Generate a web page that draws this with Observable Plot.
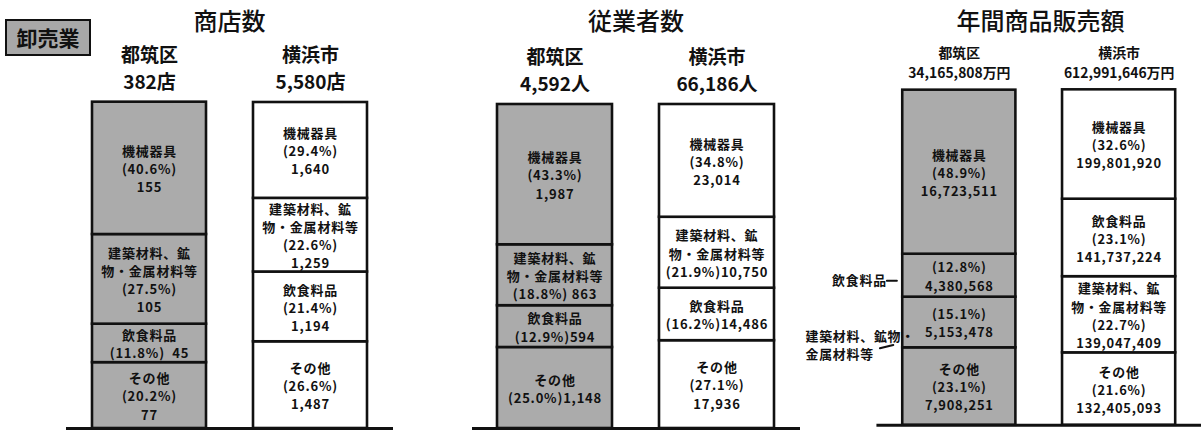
<!DOCTYPE html>
<html><head><meta charset="utf-8">
<script src="https://cdn.jsdelivr.net/npm/d3@7"></script>
<script src="https://cdn.jsdelivr.net/npm/@observablehq/plot@0.6"></script>
<style>
body{margin:0;background:#fff;font-family:"Noto Sans CJK JP",sans-serif;}
#wrap{position:relative;width:1201px;height:430px;overflow:hidden;background:#fff}
.panel{position:absolute;top:0}
.panel g[aria-label="text"] text{letter-spacing:0.8px}
.title{position:absolute;top:8px;font-size:24px;line-height:1;text-align:center;font-weight:500;color:#111}
#badge{position:absolute;left:5px;top:19px;width:82px;height:33px;background:#a8a8a8;border:2px solid #111;
  font-size:21px;font-weight:bold;line-height:33px;text-align:center;color:#111}
</style></head><body><div id="wrap"><div id="badge">卸売業</div></div>
<script>
// ---- data ----
const areas = ["都筑区", "横浜市"];
const panelTitles = ["商店数", "従業者数", "年間商品販売額"];
const totals = [["382店", "5,580店"], ["4,592人", "66,186人"], ["34,165,808万円", "612,991,646万円"]];
const buildName = "建築材料、鉱\n物・金属材料等";

// 商店数
const shopTsuzukiCats = ["機械器具", buildName, "飲食料品", "その他"];
const shopTsuzukiPct = [40.6, 27.5, 11.8, 20.2];
const shopTsuzukiVal = [155, 105, 45, 77];
const shopTsuzukiForm = ["a", "a", "b2", "a"];
const shopYokoCats = ["機械器具", buildName, "飲食料品", "その他"];
const shopYokoPct = [29.4, 22.6, 21.4, 26.6];
const shopYokoVal = [1640, 1259, 1194, 1487];
const shopYokoForm = ["a", "a", "a", "a"];

// 従業者数
const empTsuzukiCats = ["機械器具", buildName, "飲食料品", "その他"];
const empTsuzukiPct = [43.3, 18.8, 12.9, 25.0];
const empTsuzukiVal = [1987, 863, 594, 1148];
const empTsuzukiForm = ["a", "b1", "b", "b"];
const empYokoCats = ["機械器具", buildName, "飲食料品", "その他"];
const empYokoPct = [34.8, 21.9, 16.2, 27.1];
const empYokoVal = [23014, 10750, 14486, 17936];
const empYokoForm = ["a", "b", "b", "a"];

// 年間商品販売額
const salesTsuzukiCats = ["機械器具", "飲食料品", buildName, "その他"];
const salesTsuzukiPct = [48.9, 12.8, 15.1, 23.1];
const salesTsuzukiVal = [16723511, 4380568, 5153478, 7908251];
const salesTsuzukiForm = ["a", "c", "c", "a"];
const salesYokoCats = ["機械器具", "飲食料品", buildName, "その他"];
const salesYokoPct = [32.6, 23.1, 22.7, 21.6];
const salesYokoVal = [199801920, 141737224, 139047409, 132405093];
const salesYokoForm = ["a", "a", "a", "a"];

const outsideFood = "飲食料品";
const outsideBuild = "建築材料、鉱物・\n金属材料等";

// ---- build tables ----
const fmt = d3.format(",");
function label(cat, pct, val, form) {
  const p = `(${pct.toFixed(1)}%)`, v = fmt(val);
  if (form === "a") return `${cat}\n${p}\n${v}`;
  if (form === "b") return `${cat}\n${p}${v}`;
  if (form === "b1") return `${cat}\n${p} ${v}`;
  if (form === "b2") return `${cat}\n${p}  ${v}`;
  return `${p}\n${v}`;
}
function rows(area, cats, pcts, vals, forms) {
  // stacked bottom-up, so reverse the top-to-bottom order
  return cats.map((c, i) => ({area, cat: c, pct: pcts[i], val: vals[i], form: forms[i],
    label: label(c, pcts[i], vals[i], forms[i])})).reverse();
}
const tables = [
  [...rows("都筑区", shopTsuzukiCats, shopTsuzukiPct, shopTsuzukiVal, shopTsuzukiForm),
   ...rows("横浜市", shopYokoCats, shopYokoPct, shopYokoVal, shopYokoForm)],
  [...rows("都筑区", empTsuzukiCats, empTsuzukiPct, empTsuzukiVal, empTsuzukiForm),
   ...rows("横浜市", empYokoCats, empYokoPct, empYokoVal, empYokoForm)],
  [...rows("都筑区", salesTsuzukiCats, salesTsuzukiPct, salesTsuzukiVal, salesTsuzukiForm),
   ...rows("横浜市", salesYokoCats, salesYokoPct, salesYokoVal, salesYokoForm)]
];

const gray = "#ababab";
const ink = "#111";
const layouts = [
  {left: 0, width: 400, ml: 66, mr: 7, mt: 102, head: 19, lh: 1.4, pad: 14},
  {left: 400, width: 400, ml: 72, mr: 0, mt: 104, head: 19, lh: 1.4, pad: 14},
  {left: 800, width: 404, ml: 77, mr: 0, mt: 90, head: 14, lh: 1.4, pad: 12}
];
const lineShape = {draw(context, l) { context.moveTo(0, 0); context.lineTo(0, -l); }};

const wrap = document.getElementById("wrap");
tables.forEach((data, p) => {
  const L = layouts[p];
  const st = o => Plot.stackY({x: "area", y: "pct", ...o});
  const marks = [
    Plot.rectY(data, st({fill: "area", stroke: ink, strokeWidth: 2.6})),
    Plot.text(data, st({text: "label", fontSize: 13, fontWeight: "bold", lineHeight: 1.4, fill: ink})),
    Plot.ruleY([0], {stroke: ink, strokeWidth: 3}),
    Plot.axisX({anchor: "top", tickSize: 0, tickPadding: L.pad, label: null,
      tickFormat: d => d + "\n" + totals[p][areas.indexOf(d)],
      fontSize: L.head, fontWeight: "bold", lineHeight: L.lh, fill: ink})
  ];
  if (p === 2) {
    const isT = (d, c) => d.area === "都筑区" && d.cat === c;
    marks.push(
      Plot.text(data, st({text: d => isT(d, "飲食料品") ? outsideFood : null, textAnchor: "end",
        dx: -73, dy: 5, fontSize: 13, fontWeight: "bold", fill: ink})),
      Plot.text(data, st({text: d => isT(d, buildName) ? outsideBuild : null, textAnchor: "start",
        dx: -155, dy: 22, fontSize: 13, fontWeight: "bold", lineHeight: 1.4, fill: ink})),
      Plot.vector(data, st({length: d => isT(d, "飲食料品") ? 24 : NaN, rotate: 90, anchor: "start",
        dx: -73, dy: 5, shape: lineShape, stroke: ink, strokeWidth: 2})),
      Plot.vector(data, st({length: d => isT(d, buildName) ? 33 : NaN, rotate: 76, anchor: "start",
        dx: -80, dy: 26, shape: lineShape, stroke: ink, strokeWidth: 2}))
    );
  }
  const chart = Plot.plot({
    width: L.width, height: 430,
    marginTop: L.mt, marginBottom: 2, marginLeft: L.ml, marginRight: L.mr,
    x: {domain: areas, paddingInner: 0.29, paddingOuter: 0.155, axis: null},
    y: {domain: [0, 100], axis: null},
    color: {domain: areas, range: [gray, "white"]},
    style: {fontFamily: "'Noto Sans CJK JP', sans-serif", background: "transparent", overflow: "visible"},
    marks
  });
  const div = document.createElement("div");
  div.className = "panel";
  div.style.left = L.left + "px";
  div.appendChild(chart);
  wrap.appendChild(div);
  const t = document.createElement("div");
  t.className = "title";
  t.textContent = panelTitles[p];
  t.style.left = (L.left + L.ml) + "px";
  t.style.width = (L.width - L.ml - L.mr) + "px";
  wrap.appendChild(t);
});
</script></body></html>
